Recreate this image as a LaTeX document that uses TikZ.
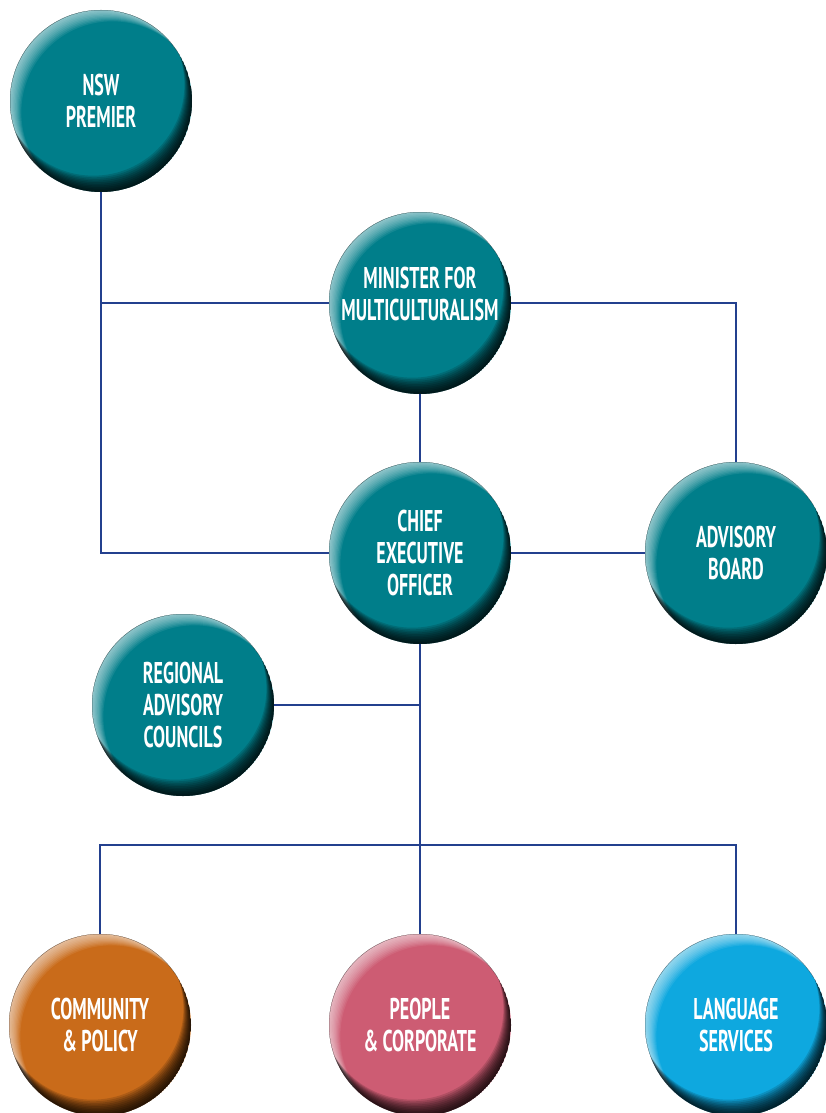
\documentclass[tikz,border=0pt]{standalone}
\usepackage{fontspec}
\usepackage{tikz}
\newfontfamily\orgfont[FakeStretch=0.6]{PT Sans}
\definecolor{orgteal}{HTML}{007E8A}
\definecolor{orgorange}{HTML}{C96B1A}
\definecolor{orgpink}{HTML}{CD5C73}
\definecolor{orgblue}{HTML}{0EA8DF}
\definecolor{orgline}{HTML}{23408E}
\tikzset{
  ball/.style={circle, minimum size=182pt, inner sep=0pt, fill=#1, text=white,
    align=center, font=\orgfont\bfseries\fontsize{30}{32}\selectfont,
    path picture={
      \foreach \s in {1,...,10}
        \fill[white, opacity=.08, even odd rule]
          (path picture bounding box.center) circle (91pt)
          ([shift={(-45:\s*1.6pt)}]path picture bounding box.center) circle (91pt);
      \foreach \s in {1,...,10}
        \fill[black, opacity=.14, even odd rule]
          (path picture bounding box.center) circle (91pt)
          ([shift={(115:\s*1.8pt)}]path picture bounding box.center) circle (91pt);
    }},
  link/.style={draw=orgline, line width=2pt}
}

\begin{document}
\begin{tikzpicture}[x=1pt, y=-1pt]
\useasboundingbox (0,0) rectangle (826,1113);
% the circles
\node[ball=orgteal] (premier) at (101,101) {NSW\\PREMIER};
\node[ball=orgteal] (minister) at (420,303) {MINISTER FOR\\MULTICULTURALISM\\[-14pt]};
\node[ball=orgteal] (ceo) at (420,553) {CHIEF\\EXECUTIVE\\OFFICER};
\node[ball=orgteal] (board) at (736,553) {ADVISORY\\BOARD};
\node[ball=orgteal] (regional) at (183,705) {REGIONAL\\ADVISORY\\COUNCILS};
\node[ball=orgorange] (community) at (100,1025) {COMMUNITY\\\& POLICY};
\node[ball=orgpink] (people) at (420,1025) {PEOPLE\\\& CORPORATE};
\node[ball=orgblue] (language) at (736,1025) {LANGUAGE\\SERVICES};
\coordinate (bar) at (420,845);
% the lines
\draw[link] (premier.south) |- (ceo.west);
\draw[link] (premier.south |- minister.west) -- (minister.west);
\draw[link] (minister.east) -| (board.north);
\draw[link] (minister.south) -- (ceo.north);
\draw[link] (ceo.east) -- (board.west);
\draw[link] (ceo.south) -- (people.north);
\draw[link] (regional.east) -- (regional.east -| ceo.south);
\draw[link] (community.north) |- (bar) -| (language.north);
\end{tikzpicture}
\end{document}
